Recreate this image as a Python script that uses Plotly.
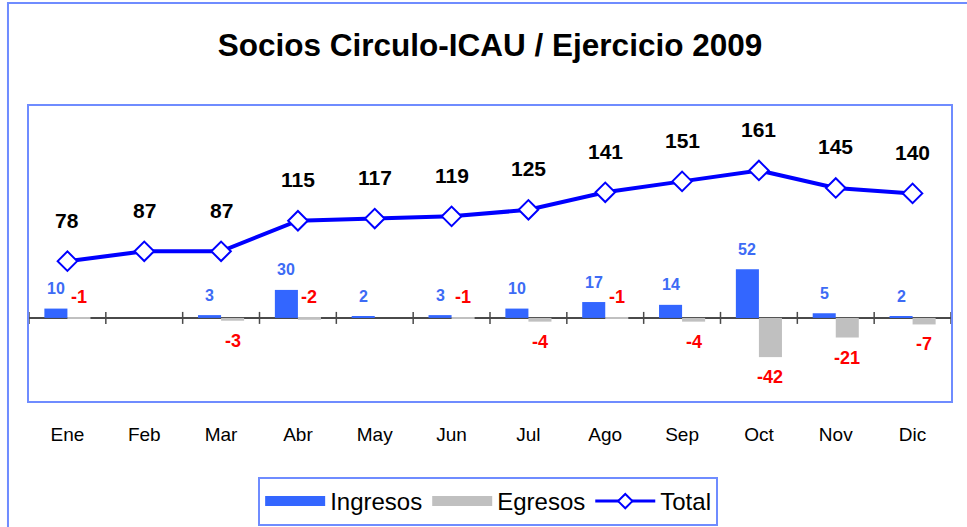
import plotly.graph_objects as go

months = ["Ene", "Feb", "Mar", "Abr", "May", "Jun", "Jul", "Ago", "Sep", "Oct", "Nov", "Dic"]
ingresos = [10, None, 3, 30, 2, 3, 10, 17, 14, 52, 5, 2]
egresos = [-1, None, -3, -2, None, -1, -4, -1, -4, -42, -21, -7]
total = [78, 87, 87, 115, 117, 119, 125, 141, 151, 161, 145, 140]

FONT = "Liberation Sans, Arial, sans-serif"
BOX = "#6f8cff"
BLUE_BAR = "#3366FF"
GRAY_BAR = "#C0C0C0"
LINE_BLUE = "#0000FF"

fig = go.Figure()
fig.add_trace(go.Bar(x=months, y=ingresos, name="Ingresos", showlegend=False, legendgroup="ing",
                     marker=dict(color=BLUE_BAR, line=dict(width=0)), yaxis="y"))
fig.add_trace(go.Bar(x=months, y=egresos, name="Egresos", showlegend=False, legendgroup="egr",
                     marker=dict(color=GRAY_BAR, line=dict(width=0)), yaxis="y"))
fig.add_trace(go.Scatter(x=months, y=total, name="Total", mode="lines+markers", yaxis="y2", showlegend=False,
                         legendgroup="tot",
                         line=dict(color=LINE_BLUE, width=4),
                         marker=dict(symbol="diamond", size=15, color="white", line=dict(color=LINE_BLUE, width=2))))
# legend entries (wide swatches like the original)
fig.add_trace(go.Scatter(x=[None], y=[None], name="Ingresos", mode="lines", legendgroup="ing",
                         line=dict(color=BLUE_BAR, width=16)))
fig.add_trace(go.Scatter(x=[None], y=[None], name="Egresos", mode="lines", legendgroup="egr",
                         line=dict(color=GRAY_BAR, width=16)))
fig.add_trace(go.Scatter(x=[None], y=[None], name="Total", mode="lines+markers", legendgroup="tot",
                         line=dict(color=LINE_BLUE, width=3),
                         marker=dict(symbol="diamond", size=11, color="white", line=dict(color=LINE_BLUE, width=2))))

ann = []
for m, v in zip(months, total):
    ann.append(dict(x=m, y=v, xref="x", yref="y2", text=str(v), showarrow=False, yshift=41,
                    font=dict(family=FONT, size=21, color="black", weight="bold")))
for m, v in zip(months, ingresos):
    if v is None:
        continue
    ann.append(dict(x=m, y=v, xref="x", yref="y", text=str(v), showarrow=False, yshift=20, xshift=-11.5,
                    font=dict(family=FONT, size=16, color="#3d6bf5", weight="bold")))
for m, v in zip(months, egresos):
    if v is None:
        continue
    if abs(v) <= 2:
        yv, ys = 0, 21
    else:
        yv, ys = v, -20
    ann.append(dict(x=m, y=yv, xref="x", yref="y", text=str(v), showarrow=False, yshift=ys, xshift=11.5,
                    font=dict(family=FONT, size=18, color="#FF0000", weight="bold")))

shapes = []
# outer chart border
shapes.append(dict(type="rect", xref="paper", yref="paper", x0=-0.0228, x1=1.2, y0=-0.6, y1=1.349,
                   line=dict(color=BOX, width=2), fillcolor="rgba(0,0,0,0)", layer="below"))
# category tick marks crossing the zero line
for k in range(len(months) + 1):
    shapes.append(dict(type="line", xref="x", yref="y", x0=k - 0.5, x1=k - 0.5,
                       ysizemode="pixel", yanchor=0, y0=-6, y1=6,
                       line=dict(color="#4a4a4a", width=1.5)))

fig.update_layout(
    width=967, height=527,
    margin=dict(l=29, r=16, t=106, b=126, autoexpand=False),
    paper_bgcolor="white", plot_bgcolor="white",
    title=dict(text="<b>Socios Circulo-ICAU / Ejercicio 2009</b>", x=0.5, xref="paper",
               y=1 - 45 / 527, yanchor="middle", font=dict(family=FONT, size=31.5, color="black")),
    barmode="group", bargap=0.4, bargroupgap=0,
    xaxis=dict(type="category", range=[-0.5, 11.5], showgrid=False, showline=True, mirror=True,
               linecolor=BOX, linewidth=2, ticks="outside", ticklen=15, tickcolor="rgba(0,0,0,0)",
               tickfont=dict(family=FONT, size=19, color="black")),
    yaxis=dict(range=[-89, 227], showgrid=False, showticklabels=False, showline=True, mirror=True,
               linecolor=BOX, linewidth=2, zeroline=True, zerolinecolor="#4a4a4a", zerolinewidth=1.5),
    yaxis2=dict(range=[-50, 220], overlaying="y", visible=False),
    legend=dict(orientation="h", x=0.498, xanchor="center", yref="container", y=1 - 477 / 527, yanchor="top",
                bordercolor=BOX, borderwidth=2, font=dict(family=FONT, size=24, color="black"),
                itemwidth=60, traceorder="normal", tracegroupgap=0),
    annotations=ann, shapes=shapes, showlegend=True,
)

fig.write_html("out.html", config={"displayModeBar": False},
               post_script="document.body.style.margin='0';")
